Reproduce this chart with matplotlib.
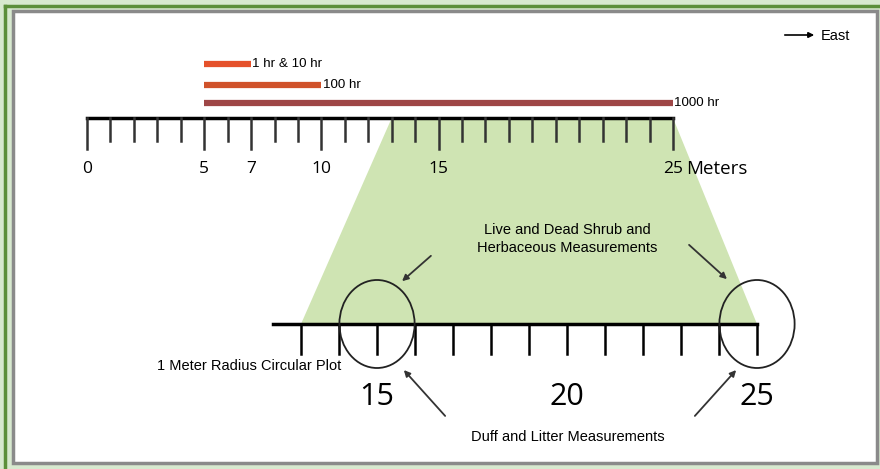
import matplotlib
matplotlib.use("Agg")
import matplotlib.pyplot as plt
from matplotlib import font_manager
from matplotlib.patches import Polygon, Ellipse, Rectangle

names = set(f.name for f in font_manager.fontManager.ttflist)
narrow = "Liberation Sans Narrow" in names
label_font = "Liberation Sans Narrow" if narrow else "Liberation Sans"
num_font = "Liberation Sans Narrow" if narrow else "Open Sans"
plt.rcParams['font.family'] = [label_font, 'DejaVu Sans']

# fuel classes sampled along the transect (meters)
fuel_names = ["1 hr & 10 hr", "100 hr", "1000 hr"]
fuel_start = [5, 5, 5]
fuel_end = [7, 10, 25]
fuel_colors = ["#e5512b", "#d0522a", "#9e4646"]

# top transect scale
top_ticks = list(range(0, 26))
top_labels = [0, 5, 7, 10, 15, 25]

# zoomed section of transect
zoom_start, zoom_end = 13, 25
bot_ticks = list(range(13, 26))
bot_labels = [15, 20, 25]
plot_centers = [15, 25]

W, H = 880, 469
fig = plt.figure(figsize=(W / 100, H / 100), dpi=100)
fig.patch.set_facecolor("#d7e9cf")

# background axes in pixel units
bg = fig.add_axes([0, 0, 1, 1])
bg.set_xlim(0, W)
bg.set_ylim(H, 0)
bg.axis("off")
bg.plot([5, 5], [6, H], color="#5b8f3a", lw=2.5)
bg.plot([5, W], [6, 6], color="#5b8f3a", lw=2.5)
bg.add_patch(Rectangle((13, 11), 864, 452, facecolor="white",
                       edgecolor="#8a8a8a", lw=2.5, zorder=0))

# top ruler axes: x in meters, y in pixels
top = fig.add_axes([0, 0, 1, 1], sharey=bg)
top.set_xlim(-87 / 23.44, (W - 87) / 23.44)
top.axis("off")
top.patch.set_alpha(0)

# bottom ruler axes
bot = fig.add_axes([0, 0, 1, 1], sharey=bg)
bot.set_xlim(15 - 377 / 38.0, 15 + (W - 377) / 38.0)
bot.axis("off")
bot.patch.set_alpha(0)

y_top, y_bot = 118, 324
sz = 1.0 if narrow else 0.88


def to_px(ax, x, y):
    return bg.transData.inverted().transform(ax.transData.transform((x, y)))


# green trapezoid joining the two scales
pts = [to_px(top, zoom_start, y_top), to_px(top, zoom_end, y_top),
       to_px(bot, zoom_end, y_bot), to_px(bot, zoom_start, y_bot)]
bg.add_patch(Polygon(pts, closed=True, facecolor="#cfe4b3", edgecolor="none", zorder=1))

# fuel bars
for name, s, e, c, y in zip(fuel_names, fuel_start, fuel_end, fuel_colors, [64, 85, 103]):
    top.plot([s, e], [y, y], color=c, lw=4.5, solid_capstyle="butt", zorder=3)
    top.text(e + 0.06, y, name, fontsize=11 * sz, va="center", ha="left")

# top ruler
top.plot([top_ticks[0], top_ticks[-1]], [y_top, y_top], color="black", lw=2.5, zorder=4)
for t in top_ticks:
    bottom = 149 if t in top_labels else 141
    top.plot([t, t], [y_top, bottom], color="#333333", lw=1.8, zorder=4)
for t in top_labels:
    top.text(t, 169, str(t), fontsize=14 if narrow else 12.5, family=num_font,
             ha="center", va="center", zorder=5)
top.text(25.55, 169, "Meters", fontsize=15 if narrow else 13.5, family=num_font,
         ha="left", va="center")

# bottom ruler
bot.plot([12.25, bot_ticks[-1]], [y_bot, y_bot], color="black", lw=2.5, zorder=4)
for t in bot_ticks:
    bot.plot([t, t], [y_bot, 354], color="black", lw=1.8, zorder=4)
for t in bot_labels:
    bot.text(t, 397, str(t), fontsize=26 if narrow else 22, family=num_font,
             ha="center", va="center", zorder=5)

# circular plots
for c in plot_centers:
    bot.add_patch(Ellipse((c, 324), 1.98, 88, facecolor="none", edgecolor="#222222",
                          lw=1.3, zorder=6))

# annotations
arrow = dict(arrowstyle="-|>", color="#333333", lw=1.3, mutation_scale=9)
bg.text(567, 239, "Live and Dead Shrub and\nHerbaceous Measurements", fontsize=12 * sz,
        ha="center", va="center", linespacing=1.4)
bg.annotate("", xy=(400, 283), xytext=(433, 254), arrowprops=arrow)
bg.annotate("", xy=(729, 281), xytext=(687, 243), arrowprops=arrow)

bg.text(568, 437, "Duff and Litter Measurements", fontsize=12 * sz, ha="center", va="center")
bg.annotate("", xy=(402, 368), xytext=(447, 418), arrowprops=arrow)
bg.annotate("", xy=(738, 368), xytext=(693, 418), arrowprops=arrow)

bg.text(157, 366, "1 Meter Radius Circular Plot", fontsize=12 * sz, ha="left", va="center")

bg.annotate("", xy=(817, 35), xytext=(782, 35),
            arrowprops=dict(arrowstyle="-|>", color="black", lw=1.2, mutation_scale=8))
bg.text(821, 36, "East", fontsize=12 * sz, ha="left", va="center")

fig.savefig("out.png", dpi=100, facecolor=fig.get_facecolor())
plt.close(fig)
